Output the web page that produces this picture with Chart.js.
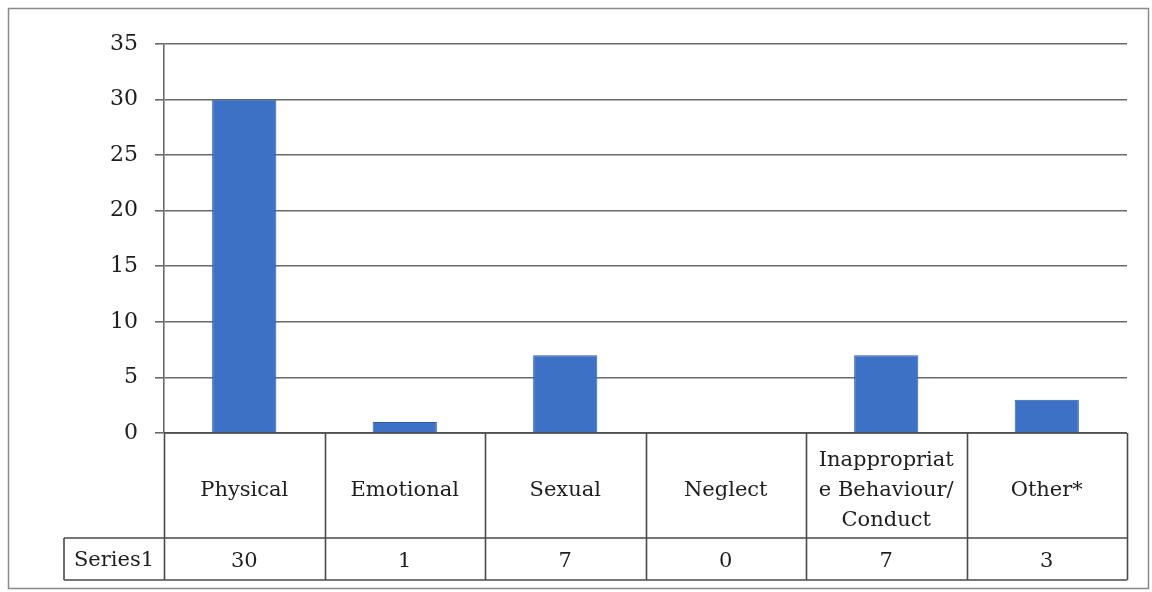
<!DOCTYPE html>
<html lang="en">
<head>
    <meta charset="UTF-8">
    <title>Series1</title>
    <script src="https://cdn.jsdelivr.net/npm/chart.js"></script>
    <style>
        body { margin: 0; background: #fff; }
        #wrap { width: 1152px; height: 592px; position: relative; }
    </style>
</head>
<body>
    <div id="wrap"><canvas id="chart"></canvas></div>

<script>
// data
const categories = ['Physical', 'Emotional', 'Sexual', 'Neglect', ['Inappropriat', 'e Behaviour/', 'Conduct'], 'Other*'];
const seriesName = 'Series1';
const series1 = [30, 1, 7, 0, 7, 3];
const yTicks = [0, 5, 10, 15, 20, 25, 30, 35];

const FONT = '"DejaVu Serif", "Liberation Serif", serif';

// draws the Excel-style data table under the plot
const dataTable = {
    id: 'dataTable',
    afterDraw(chart) {
        const ctx = chart.ctx;
        const area = chart.chartArea;
        const x = chart.scales.x;
        const n = categories.length;
        const step = (area.right - area.left) / n;
        const rowTop = area.bottom;
        const rowMid = rowTop + 105;
        const rowBot = rowMid + 42;
        const labelLeft = 64;

        ctx.save();
        ctx.strokeStyle = '#4a4a4a';
        ctx.lineWidth = 1.6;
        ctx.beginPath();
        // vertical lines
        for (let i = 0; i <= n; i++) {
            const px = Math.round(area.left + i * step) + 0.5;
            ctx.moveTo(px, rowTop);
            ctx.lineTo(px, rowBot);
        }
        // horizontal lines
        ctx.moveTo(area.left, rowTop);
        ctx.lineTo(area.right, rowTop);
        ctx.moveTo(labelLeft, rowMid);
        ctx.lineTo(area.right, rowMid);
        ctx.moveTo(labelLeft, rowBot);
        ctx.lineTo(area.right, rowBot);
        ctx.moveTo(labelLeft, rowMid);
        ctx.lineTo(labelLeft, rowBot);
        ctx.stroke();

        ctx.fillStyle = '#1e1e1e';
        ctx.font = '21px ' + FONT;
        ctx.textAlign = 'center';
        ctx.textBaseline = 'middle';
        categories.forEach((c, i) => {
            const cx = x.getPixelForValue(i);
            const lines = Array.isArray(c) ? c : [c];
            const lh = 30;
            const y0 = (rowTop + rowMid) / 2 + 5 - (lines.length - 1) * lh / 2;
            lines.forEach((l, j) => ctx.fillText(l, cx, y0 + j * lh));
            ctx.fillText(String(series1[i]), cx, (rowMid + rowBot) / 2 + 3);
        });
        ctx.fillText(seriesName, (labelLeft + area.left) / 2, (rowMid + rowBot) / 2 + 2);

        // outer frame
        ctx.strokeStyle = '#8a8a8a';
        ctx.lineWidth = 1.5;
        ctx.strokeRect(8.5, 8.5, 1140, 580);
        ctx.restore();
    }
};

const ctx = document.getElementById('chart').getContext('2d');
new Chart(ctx, {
    type: 'bar',
    data: {
        labels: categories,
        datasets: [{
            label: seriesName,
            data: series1,
            backgroundColor: '#3d71c5',
            borderColor: '#2f5ca6',
            borderWidth: 1,
            barPercentage: 0.4,
            categoryPercentage: 1
        }]
    },
    options: {
        responsive: true,
        maintainAspectRatio: false,
        animation: false,
        layout: { padding: { left: 0, top: 44, right: 25, bottom: 159 } },
        plugins: {
            legend: { display: false },
            tooltip: { enabled: false }
        },
        scales: {
            x: { display: false },
            y: {
                min: 0,
                max: 35,
                afterBuildTicks: s => { s.ticks = yTicks.map(v => ({ value: v })); },
                afterFit: s => { s.width = 164; },
                border: { color: '#6a6a6a', width: 1.6 },
                grid: { color: '#6a6a6a', lineWidth: 1.6, tickLength: 9 },
                ticks: {
                    padding: 17,
                    color: '#1e1e1e',
                    font: { family: FONT, size: 22 }
                }
            }
        }
    },
    plugins: [dataTable]
});
</script>
</body>
</html>
